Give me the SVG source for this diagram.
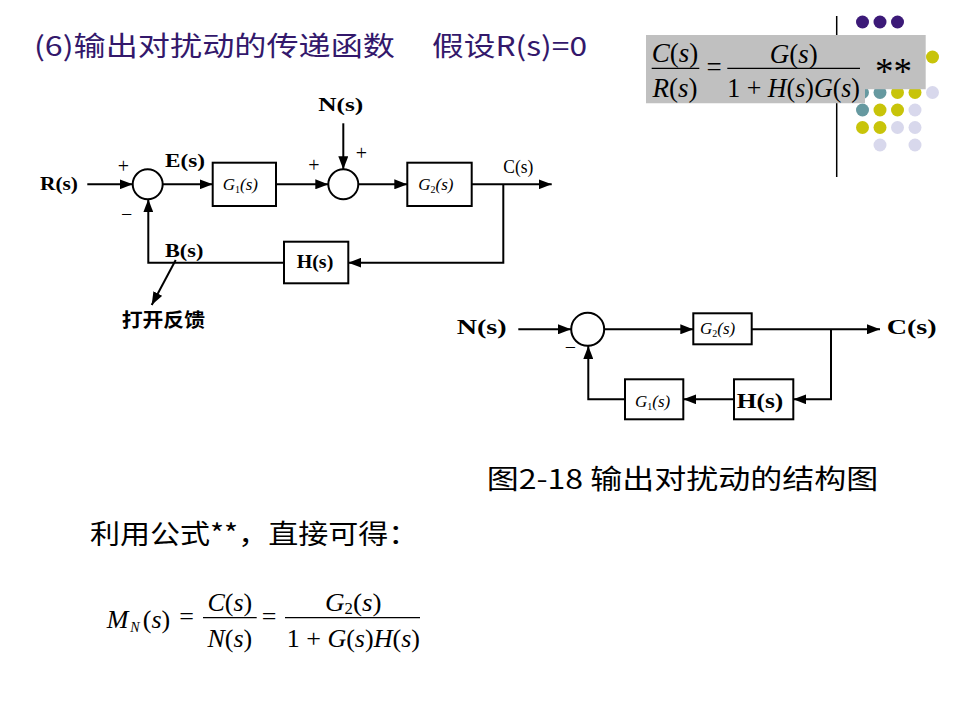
<svg xmlns="http://www.w3.org/2000/svg" width="960" height="720" viewBox="0 0 960 720">
<defs>
<marker id="ah" markerUnits="userSpaceOnUse" markerWidth="13" markerHeight="10" refX="13" refY="5" orient="auto">
<path d="M0,0 L13,5 L0,10 z" fill="#000"/>
</marker>
<style>
.ln{stroke:#000;stroke-width:2;fill:none}
.ar{stroke:#000;stroke-width:2;fill:none;marker-end:url(#ah)}
.box{fill:#fff;stroke:#000;stroke-width:2}
.sum{fill:#fff;stroke:#000;stroke-width:2}
.lb{font-family:"Liberation Serif",serif;font-weight:bold;font-size:19px;fill:#000}
.gi{font-family:"Liberation Serif",serif;font-style:italic;font-size:17px;fill:#000}
.sg{font-family:"Liberation Serif",serif;font-size:20px;fill:#000}
.cjk{font-family:"Noto Sans CJK SC",sans-serif;font-size:27px;fill:#000}
.tt{font-family:"Noto Sans CJK SC",sans-serif;font-size:27px;fill:#33186b}
.mf{font-family:"Liberation Serif",serif;font-size:26px;fill:#000}
.it{font-style:italic}
.dp{fill:#3c1a78}.dt{fill:#6699a0}.dy{fill:#c8c40a}.dl{fill:#d8d8ec}
</style>
</defs>
<rect width="960" height="720" fill="#fff"/>

<!-- decoration -->
<g id="decor">
<line x1="836.7" y1="16" x2="836.7" y2="177" stroke="#000" stroke-width="1.5"/>
<circle class="dp" cx="862.5" cy="22" r="6.5"/><circle class="dp" cx="880" cy="22" r="6.5"/><circle class="dp" cx="897.5" cy="22" r="6.5"/>
<circle class="dy" cx="932.5" cy="57" r="6.5"/>
<circle class="dt" cx="862.5" cy="92.5" r="6.5"/><circle class="dt" cx="880" cy="92.5" r="6.5"/><circle class="dy" cx="897.5" cy="92.5" r="6.5"/><circle class="dy" cx="915" cy="92.5" r="6.5"/><circle class="dl" cx="932.5" cy="92.5" r="6.5"/>
<circle class="dt" cx="862.5" cy="110" r="6.5"/><circle class="dy" cx="880" cy="110" r="6.5"/><circle class="dy" cx="897.5" cy="110" r="6.5"/><circle class="dl" cx="915" cy="110" r="6.5"/>
<circle class="dy" cx="862.5" cy="127.5" r="6.5"/><circle class="dy" cx="880" cy="127.5" r="6.5"/><circle class="dl" cx="897.5" cy="127.5" r="6.5"/><circle class="dl" cx="915" cy="127.5" r="6.5"/>
<circle class="dl" cx="880" cy="145" r="6.5"/><circle class="dl" cx="915" cy="145" r="6.5"/>
</g>

<!-- title -->
<g id="title">
<text class="tt" x="34" y="56" textLength="361" lengthAdjust="spacingAndGlyphs">(6)输出对扰动的传递函数</text>
<text class="tt" x="432" y="56" textLength="155" lengthAdjust="spacingAndGlyphs">假设R(s)=0</text>
</g>

<!-- formula box -->
<g id="formula-box">
<path d="M646,35 H925.7 V89.3 H865 V103.3 H646 z" fill="#c0c0c0"/>
<text class="mf" x="675" y="61.7" text-anchor="middle" style="font-size:27px"><tspan class="it">C</tspan>(<tspan class="it">s</tspan>)</text>
<line x1="651.7" y1="68.3" x2="699.3" y2="68.3" stroke="#000" stroke-width="1.2"/>
<text class="mf" x="675" y="96.7" text-anchor="middle" style="font-size:27px"><tspan class="it">R</tspan>(<tspan class="it">s</tspan>)</text>
<text class="mf" x="714" y="76" text-anchor="middle" style="font-size:27px">=</text>
<text class="mf" x="793.7" y="63.3" text-anchor="middle" style="font-size:27px"><tspan class="it">G</tspan>(<tspan class="it">s</tspan>)</text>
<line x1="727.3" y1="68.3" x2="860" y2="68.3" stroke="#000" stroke-width="1.2"/>
<text class="mf" x="727.3" y="96.7" style="font-size:27px" textLength="132.7" lengthAdjust="spacingAndGlyphs">1 + <tspan class="it">H</tspan>(<tspan class="it">s</tspan>)<tspan class="it">G</tspan>(<tspan class="it">s</tspan>)</text>
<text class="mf" x="875" y="84" style="font-size:37px">**</text>
</g>

<!-- diagram 1 -->
<g id="d1-connectors">
<line class="ar" x1="87.3" y1="184.3" x2="132.7" y2="184.3"/>
<line class="ar" x1="162.7" y1="184.3" x2="212.7" y2="184.3"/>
<line class="ar" x1="276" y1="184.3" x2="328.3" y2="184.3"/>
<line class="ar" x1="343.3" y1="123.3" x2="343.3" y2="169.3"/>
<line class="ar" x1="358.3" y1="184.3" x2="407.3" y2="184.3"/>
<line class="ar" x1="471.7" y1="184.3" x2="551.7" y2="184.3"/>
<polyline class="ar" points="503.3,184.3 503.3,262.7 348.3,262.7"/>
<polyline class="ar" points="284,262.7 148.3,262.7 148.3,199.3"/>
<line class="ar" x1="175.7" y1="260" x2="151.7" y2="305" stroke-width="1.5"/>
</g>
<g id="d1-sum1"><circle class="sum" cx="147.7" cy="184.3" r="15"/></g>
<g id="d1-sum2"><circle class="sum" cx="343.3" cy="184.3" r="15"/></g>
<g id="d1-G1"><rect class="box" x="212.7" y="162.7" width="63.3" height="43.3"/>
<text class="gi" x="222.7" y="190">G<tspan font-style="normal" font-size="10" dy="3">1</tspan><tspan dy="-3">(</tspan>s)</text></g>
<g id="d1-G2"><rect class="box" x="407.3" y="162.7" width="64.4" height="43.3"/>
<text class="gi" x="418.3" y="190">G<tspan font-style="normal" font-size="10" dy="3">2</tspan><tspan dy="-3">(</tspan>s)</text></g>
<g id="d1-H"><rect class="box" x="284" y="241.7" width="64.3" height="41.6"/>
<text class="lb" x="296.7" y="268.3" textLength="36.6" lengthAdjust="spacingAndGlyphs">H(s)</text></g>
<g id="d1-labels">
<text class="lb" x="40" y="190" textLength="38" lengthAdjust="spacingAndGlyphs">R(s)</text>
<text class="lb" x="165" y="167.3" textLength="40" lengthAdjust="spacingAndGlyphs">E(s)</text>
<text class="lb" x="318.3" y="110.7" textLength="45" lengthAdjust="spacingAndGlyphs">N(s)</text>
<text class="lb" x="165" y="256.7" textLength="38.3" lengthAdjust="spacingAndGlyphs">B(s)</text>
<text class="sg" x="503.3" y="173.3" style="font-size:18px" textLength="30" lengthAdjust="spacingAndGlyphs">C(s)</text>
<text class="sg" x="123.3" y="172.7" text-anchor="middle">+</text>
<text class="sg" x="126.7" y="220.5" text-anchor="middle">−</text>
<text class="sg" x="361.5" y="160" text-anchor="middle">+</text>
<text class="sg" x="314" y="172" text-anchor="middle">+</text>
<text x="121.7" y="327" font-family="'Noto Sans CJK SC',sans-serif" font-weight="bold" font-size="19" textLength="83.3" lengthAdjust="spacingAndGlyphs">打开反馈</text>
</g>

<!-- diagram 2 -->
<g id="d2-connectors">
<line class="ar" x1="518.3" y1="329.3" x2="571" y2="329.3"/>
<line class="ar" x1="604.3" y1="329.3" x2="693.3" y2="329.3"/>
<line class="ar" x1="751.7" y1="329.3" x2="880" y2="329.3"/>
<polyline class="ar" points="831,329.3 831,399.3 793.3,399.3"/>
<line class="ar" x1="734" y1="399.3" x2="683.3" y2="399.3"/>
<polyline class="ar" points="625,399.3 588.3,399.3 588.3,346"/>
</g>
<g id="d2-sum"><circle class="sum" cx="587.7" cy="329.3" r="16.5"/></g>
<g id="d2-G2"><rect class="box" x="693.3" y="313.3" width="58.4" height="31"/>
<text class="gi" x="700" y="334.3">G<tspan font-style="normal" font-size="10" dy="3">2</tspan><tspan dy="-3">(</tspan>s)</text></g>
<g id="d2-H"><rect class="box" x="734" y="379.3" width="59.3" height="40"/>
<text class="lb" x="736.7" y="408.3" style="font-size:20px" textLength="46.6" lengthAdjust="spacingAndGlyphs">H(s)</text></g>
<g id="d2-G1"><rect class="box" x="625" y="379.3" width="58.3" height="40"/>
<text class="gi" x="635" y="406.7">G<tspan font-style="normal" font-size="10" dy="3">1</tspan><tspan dy="-3">(</tspan>s)</text></g>
<g id="d2-labels">
<text class="lb" x="456.7" y="334.3" style="font-size:20px" textLength="50" lengthAdjust="spacingAndGlyphs">N(s)</text>
<text class="lb" x="886.7" y="334.3" style="font-size:20px" textLength="50" lengthAdjust="spacingAndGlyphs">C(s)</text>
<text class="sg" x="570.5" y="354" text-anchor="middle">−</text>
</g>

<!-- captions -->
<g id="caption">
<text class="cjk" x="486.7" y="489" textLength="391.6" lengthAdjust="spacingAndGlyphs">图2-18 输出对扰动的结构图</text>
<text class="cjk" x="90" y="544" textLength="328.3" lengthAdjust="spacingAndGlyphs">利用公式**，直接可得：</text>
</g>

<!-- bottom formula -->
<g id="formula-MN">
<text class="mf" x="106.7" y="628.3"><tspan class="it">M</tspan><tspan class="it" font-size="14" dx="2" dy="4">N</tspan><tspan dx="3" dy="-4">(</tspan><tspan class="it">s</tspan>)</text>
<text class="mf" x="186.5" y="625" text-anchor="middle">=</text>
<text class="mf" x="229.8" y="611" text-anchor="middle"><tspan class="it">C</tspan>(<tspan class="it">s</tspan>)</text>
<line x1="203" y1="617.7" x2="256.7" y2="617.7" stroke="#000" stroke-width="1.2"/>
<text class="mf" x="229.8" y="646.7" text-anchor="middle"><tspan class="it">N</tspan>(<tspan class="it">s</tspan>)</text>
<text class="mf" x="269.2" y="625" text-anchor="middle">=</text>
<text class="mf" x="325" y="611" textLength="56.7" lengthAdjust="spacingAndGlyphs"><tspan class="it">G</tspan><tspan font-size="16" dy="3">2</tspan><tspan dy="-3">(</tspan><tspan class="it">s</tspan>)</text>
<line x1="285" y1="617.7" x2="420" y2="617.7" stroke="#000" stroke-width="1.2"/>
<text class="mf" x="286.7" y="646.7" textLength="133.3" lengthAdjust="spacingAndGlyphs">1 + <tspan class="it">G</tspan>(<tspan class="it">s</tspan>)<tspan class="it">H</tspan>(<tspan class="it">s</tspan>)</text>
</g>
</svg>
